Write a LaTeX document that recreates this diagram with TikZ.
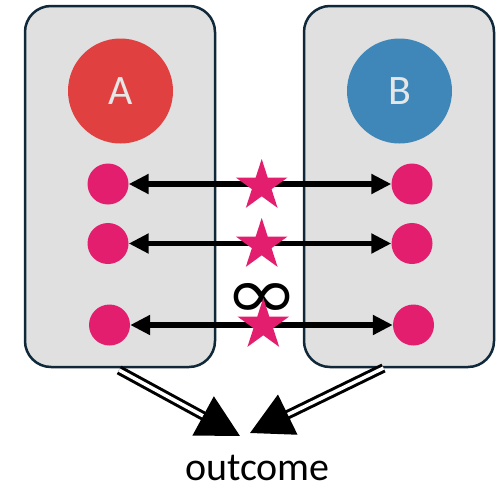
\documentclass[tikz,border=0pt]{standalone}
\usepackage{fontspec}
\setmainfont{Carlito}
\newfontfamily\symfont{DejaVu Sans}
\usetikzlibrary{shapes.geometric,arrows.meta}

\definecolor{panelfill}{HTML}{E0E0E0}
\definecolor{paneledge}{HTML}{10293A}
\definecolor{redA}{HTML}{E04040}
\definecolor{blueB}{HTML}{4087B9}
\definecolor{hotpink}{HTML}{E31E6E}
\definecolor{pale}{HTML}{E6E6E6}

\tikzset{
  panel/.style={draw=paneledge, fill=panelfill, line width=2.5pt,
    rounded corners=26pt, minimum width=190pt, minimum height=361pt, inner sep=0pt},
  bigdisc/.style={circle, inner sep=0pt, minimum size=105pt,
    text=pale, font=\fontsize{42}{42}\selectfont},
  dot/.style={circle, fill=hotpink, inner sep=0pt, minimum size=41pt},
  starmark/.style={star, star points=5, star point ratio=2.618, fill=hotpink,
    inner sep=0pt, minimum size=54pt},
  link/.style={line width=5.5pt, {Triangle[length=20pt,width=19pt]}-{Triangle[length=20pt,width=19pt]}},
  feed/.style={double, double distance=3.5pt, line width=3pt,
    -{Triangle[length=42pt,width=44pt]}},
}

\begin{document}
\begin{tikzpicture}[x=1pt, y=-1pt]
  \useasboundingbox (0,0) rectangle (503,490);

  % two panels
  \node[panel] (left)  at (120,186.5) {};
  \node[panel] (right) at (399,186.5) {};

  % labelled discs
  \node[bigdisc, fill=redA]  (A) at (120.5,91) {A};
  \node[bigdisc, fill=blueB] (B) at (399.5,91) {B};

  % paired dots
  \node[dot] (l1) at (108,184) {};
  \node[dot] (l2) at (108,243.5) {};
  \node[dot] (l3) at (109.5,325) {};
  \node[dot] (r1) at (412,184) {};
  \node[dot] (r2) at (412,243.5) {};
  \node[dot] (r3) at (413.5,325) {};

  % links between the pairs
  \draw[link] (l1) -- (r1);
  \draw[link] (l2) -- (r2);
  \draw[link] (l3) -- (r3);

  % infinity label
  \node[font=\symfont\fontsize{72}{72}\selectfont, inner sep=0pt, xscale=1.25] (inf) at (262,300.5) {∞};

  % stars on the links
  \node[starmark] (s1) at (261.7,186) {};
  \node[starmark] (s2) at (261.7,245) {};
  \node[starmark] (s3) at (263.3,325) {};

  % result
  \node[anchor=base, inner sep=0pt, font=\fontsize{40}{40}\selectfont] (out) at (257.5,480) {outcome};

  \coordinate (fromL) at (119,370);
  \coordinate (toL)   at (240,436);
  \coordinate (fromR) at (383.5,368);
  \coordinate (toR)   at (250,433);
  \draw[feed] (fromL) -- (toL);
  \draw[feed] (fromR) -- (toR);
\end{tikzpicture}
\end{document}
